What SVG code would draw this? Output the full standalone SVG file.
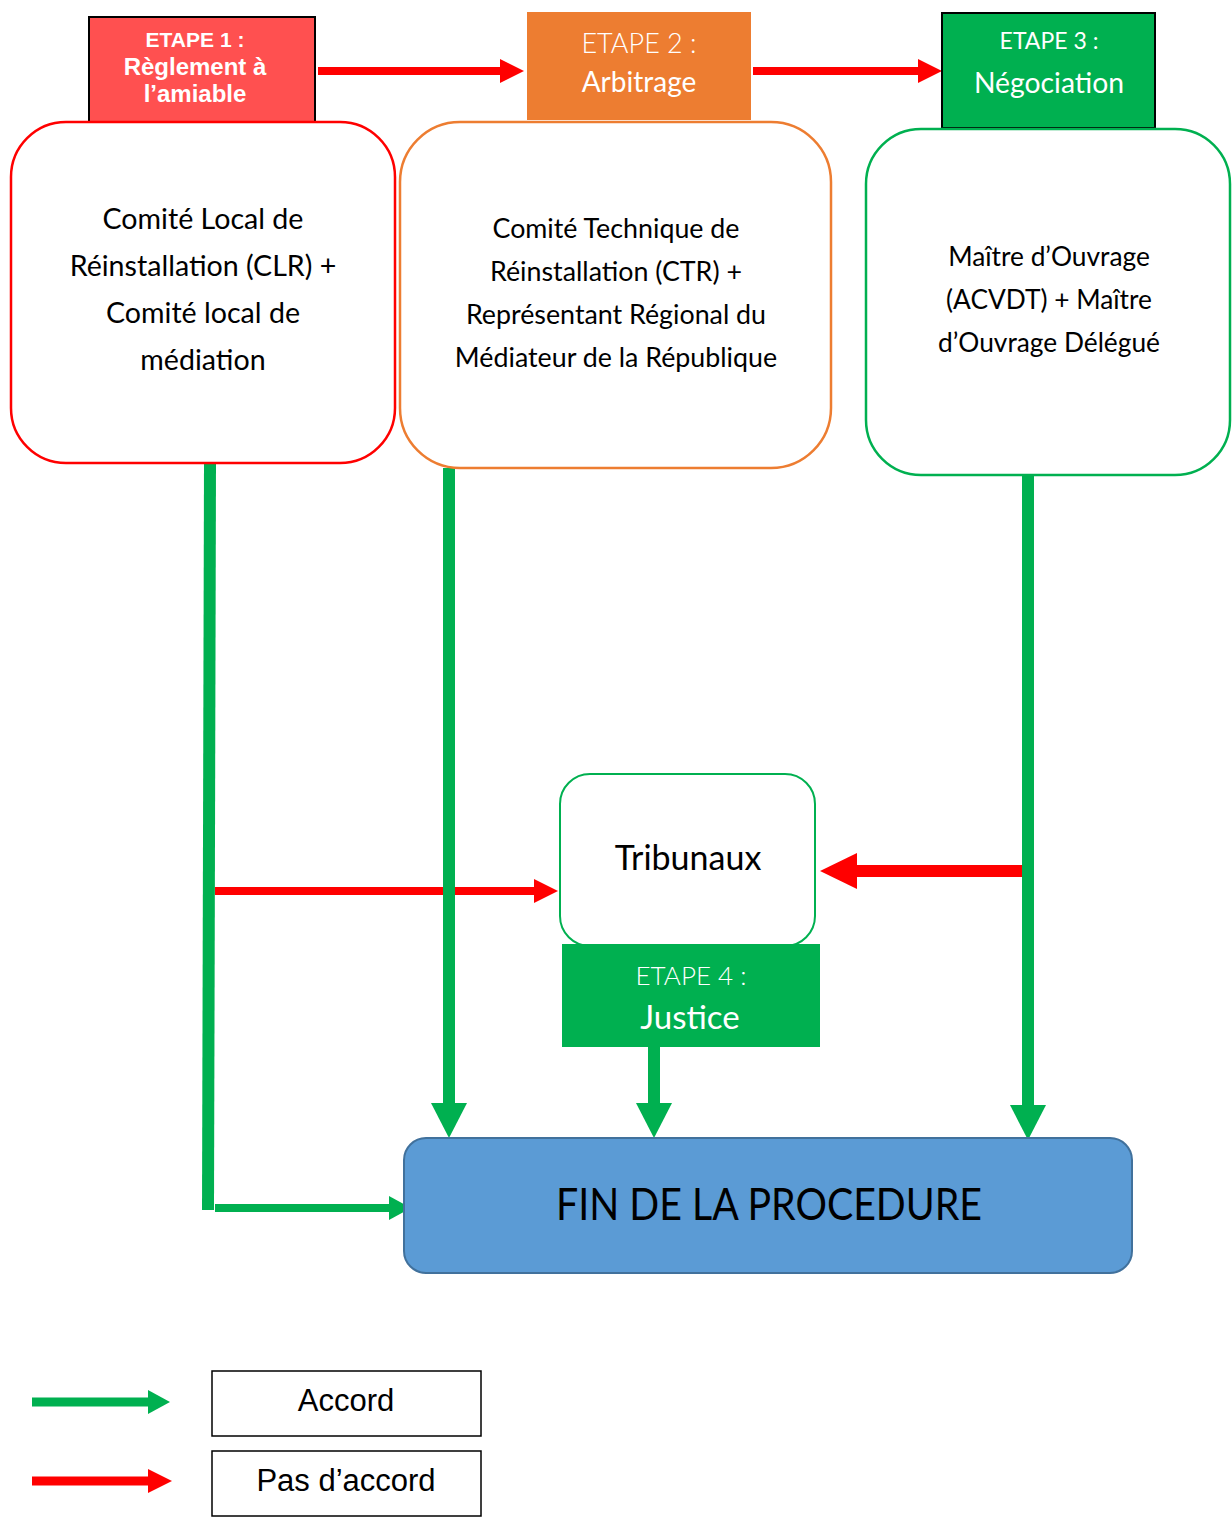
<svg xmlns="http://www.w3.org/2000/svg" width="1232" height="1517" viewBox="0 0 1232 1517">
<style>
.cal{font-family:Lato,"Open Sans","Liberation Sans",sans-serif;}
.ar{font-family:"Liberation Sans",Arial,sans-serif;}
.blk{fill:#000;}
.wht{fill:#fff;}
.mid{text-anchor:middle;}
.gl{stroke:#00B050;fill:none;}
.rl{stroke:#FF0000;fill:none;}
</style>
<defs>
<marker id="gBig" markerUnits="userSpaceOnUse" markerWidth="36" markerHeight="38" viewBox="0 -19 36 38" refX="0" refY="0" orient="auto"><path d="M0,-18 L35,0 L0,18 z" fill="#00B050"/></marker>
<marker id="gSm" markerUnits="userSpaceOnUse" markerWidth="24" markerHeight="26" viewBox="0 -13 24 26" refX="0" refY="0" orient="auto"><path d="M0,-12 L22,0 L0,12 z" fill="#00B050"/></marker>
<marker id="rSm" markerUnits="userSpaceOnUse" markerWidth="26" markerHeight="26" viewBox="0 -13 26 26" refX="0" refY="0" orient="auto"><path d="M0,-12 L24,0 L0,12 z" fill="#FF0000"/></marker>
<marker id="rBig" markerUnits="userSpaceOnUse" markerWidth="38" markerHeight="38" viewBox="0 -19 38 38" refX="0" refY="0" orient="auto"><path d="M0,-18 L37,0 L0,18 z" fill="#FF0000"/></marker>
</defs>
<rect width="1232" height="1517" fill="#fff"/>

<g id="connectors">
<line class="rl" x1="318" y1="71" x2="500" y2="71" stroke-width="8" marker-end="url(#rSm)"/>
<line class="rl" x1="753" y1="71" x2="918" y2="71" stroke-width="8" marker-end="url(#rSm)"/>
<line class="rl" x1="215" y1="891" x2="534" y2="891" stroke-width="8" marker-end="url(#rSm)"/>
<line class="rl" x1="1022" y1="871" x2="857" y2="871" stroke-width="12" marker-end="url(#rBig)"/>
<line class="gl" x1="210" y1="463" x2="208" y2="1210" stroke-width="12"/>
<line class="gl" x1="215" y1="1208" x2="389" y2="1208" stroke-width="8" marker-end="url(#gSm)"/>
<line class="gl" x1="449" y1="468" x2="449" y2="1103" stroke-width="12" marker-end="url(#gBig)"/>
<line class="gl" x1="654" y1="1047" x2="654" y2="1103" stroke-width="12" marker-end="url(#gBig)"/>
<line class="gl" x1="1028" y1="468" x2="1028" y2="1105" stroke-width="12" marker-end="url(#gBig)"/>
</g>

<g id="etape1">
<rect x="89" y="17" width="226" height="105" fill="#FF5050" stroke="#000" stroke-width="2"/>
<text class="ar wht mid" font-weight="bold" font-size="21" x="195" y="47">ETAPE 1 :</text>
<text class="ar wht mid" font-weight="bold" font-size="24" x="195"><tspan x="195" y="75">Règlement à</tspan><tspan x="195" y="102">l’amiable</tspan></text>
</g>
<g id="box1">
<rect x="11" y="122" width="384" height="341" rx="55" fill="#fff" stroke="#FF0000" stroke-width="2.5"/>
<text class="cal blk mid" font-size="28.6" x="203"><tspan x="203" y="229">Comité Local de</tspan><tspan x="203" y="276">Réinstallation (CLR) +</tspan><tspan x="203" y="323">Comité local de</tspan><tspan x="203" y="370">médiation</tspan></text>
</g>

<g id="etape2">
<rect x="527" y="12" width="224" height="108" fill="#ED7D31"/>
<text class="cal wht mid" font-size="27" font-weight="300" x="639" y="53">ETAPE 2 :</text>
<text class="cal wht mid" font-size="28" x="639" y="92">Arbitrage</text>
</g>
<g id="box2">
<rect x="400" y="122" width="431" height="346" rx="60" fill="#fff" stroke="#ED7D31" stroke-width="2.5"/>
<text class="cal blk mid" font-size="26.8" x="616"><tspan x="616" y="238">Comité Technique de</tspan><tspan x="616" y="281">Réinstallation (CTR) +</tspan><tspan x="616" y="324">Représentant Régional du</tspan><tspan x="616" y="367">Médiateur de la République</tspan></text>
</g>

<g id="etape3">
<rect x="942" y="13" width="213" height="115" fill="#00B050" stroke="#000" stroke-width="2"/>
<text class="cal wht mid" font-size="23" x="1049" y="49">ETAPE 3 :</text>
<text class="cal wht mid" font-size="28.3" x="1049" y="93">Négociation</text>
</g>
<g id="box3">
<rect x="866" y="129" width="364" height="346" rx="55" fill="#fff" stroke="#00B050" stroke-width="2.5"/>
<text class="cal blk mid" font-size="26.3" x="1049"><tspan x="1049" y="266">Maître d’Ouvrage</tspan><tspan x="1049" y="309">(ACVDT) + Maître</tspan><tspan x="1049" y="352">d’Ouvrage Délégué</tspan></text>
</g>

<g id="tribunaux">
<rect x="560" y="774" width="255" height="172" rx="30" fill="#fff" stroke="#00B050" stroke-width="2"/>
<text class="cal blk mid" font-size="34" x="688" y="870">Tribunaux</text>
</g>
<g id="etape4">
<rect x="562" y="944" width="258" height="103" fill="#00B050"/>
<text class="cal wht mid" font-size="26" font-weight="300" x="691" y="985">ETAPE 4 :</text>
<text class="cal wht mid" font-size="33" x="690" y="1029">Justice</text>
</g>

<g id="fin">
<rect x="404" y="1138" width="728" height="135" rx="22" fill="#5B9BD5" stroke="#41719C" stroke-width="2"/>
<text class="cal blk mid" font-size="44" x="769" y="1220" textLength="426" lengthAdjust="spacingAndGlyphs">FIN DE LA PROCEDURE</text>
</g>

<g id="legend">
<line class="gl" x1="32" y1="1402" x2="148" y2="1402" stroke-width="9" marker-end="url(#gSm)"/>
<line class="rl" x1="32" y1="1481" x2="148" y2="1481" stroke-width="9" marker-end="url(#rSm)"/>
<rect x="212" y="1371" width="269" height="65" fill="#fff" stroke="#000" stroke-width="1.5"/>
<text class="ar blk mid" font-size="31" x="346" y="1411">Accord</text>
<rect x="212" y="1451" width="269" height="65" fill="#fff" stroke="#000" stroke-width="1.5"/>
<text class="ar blk mid" font-size="31" x="346" y="1491">Pas d’accord</text>
</g>
</svg>
